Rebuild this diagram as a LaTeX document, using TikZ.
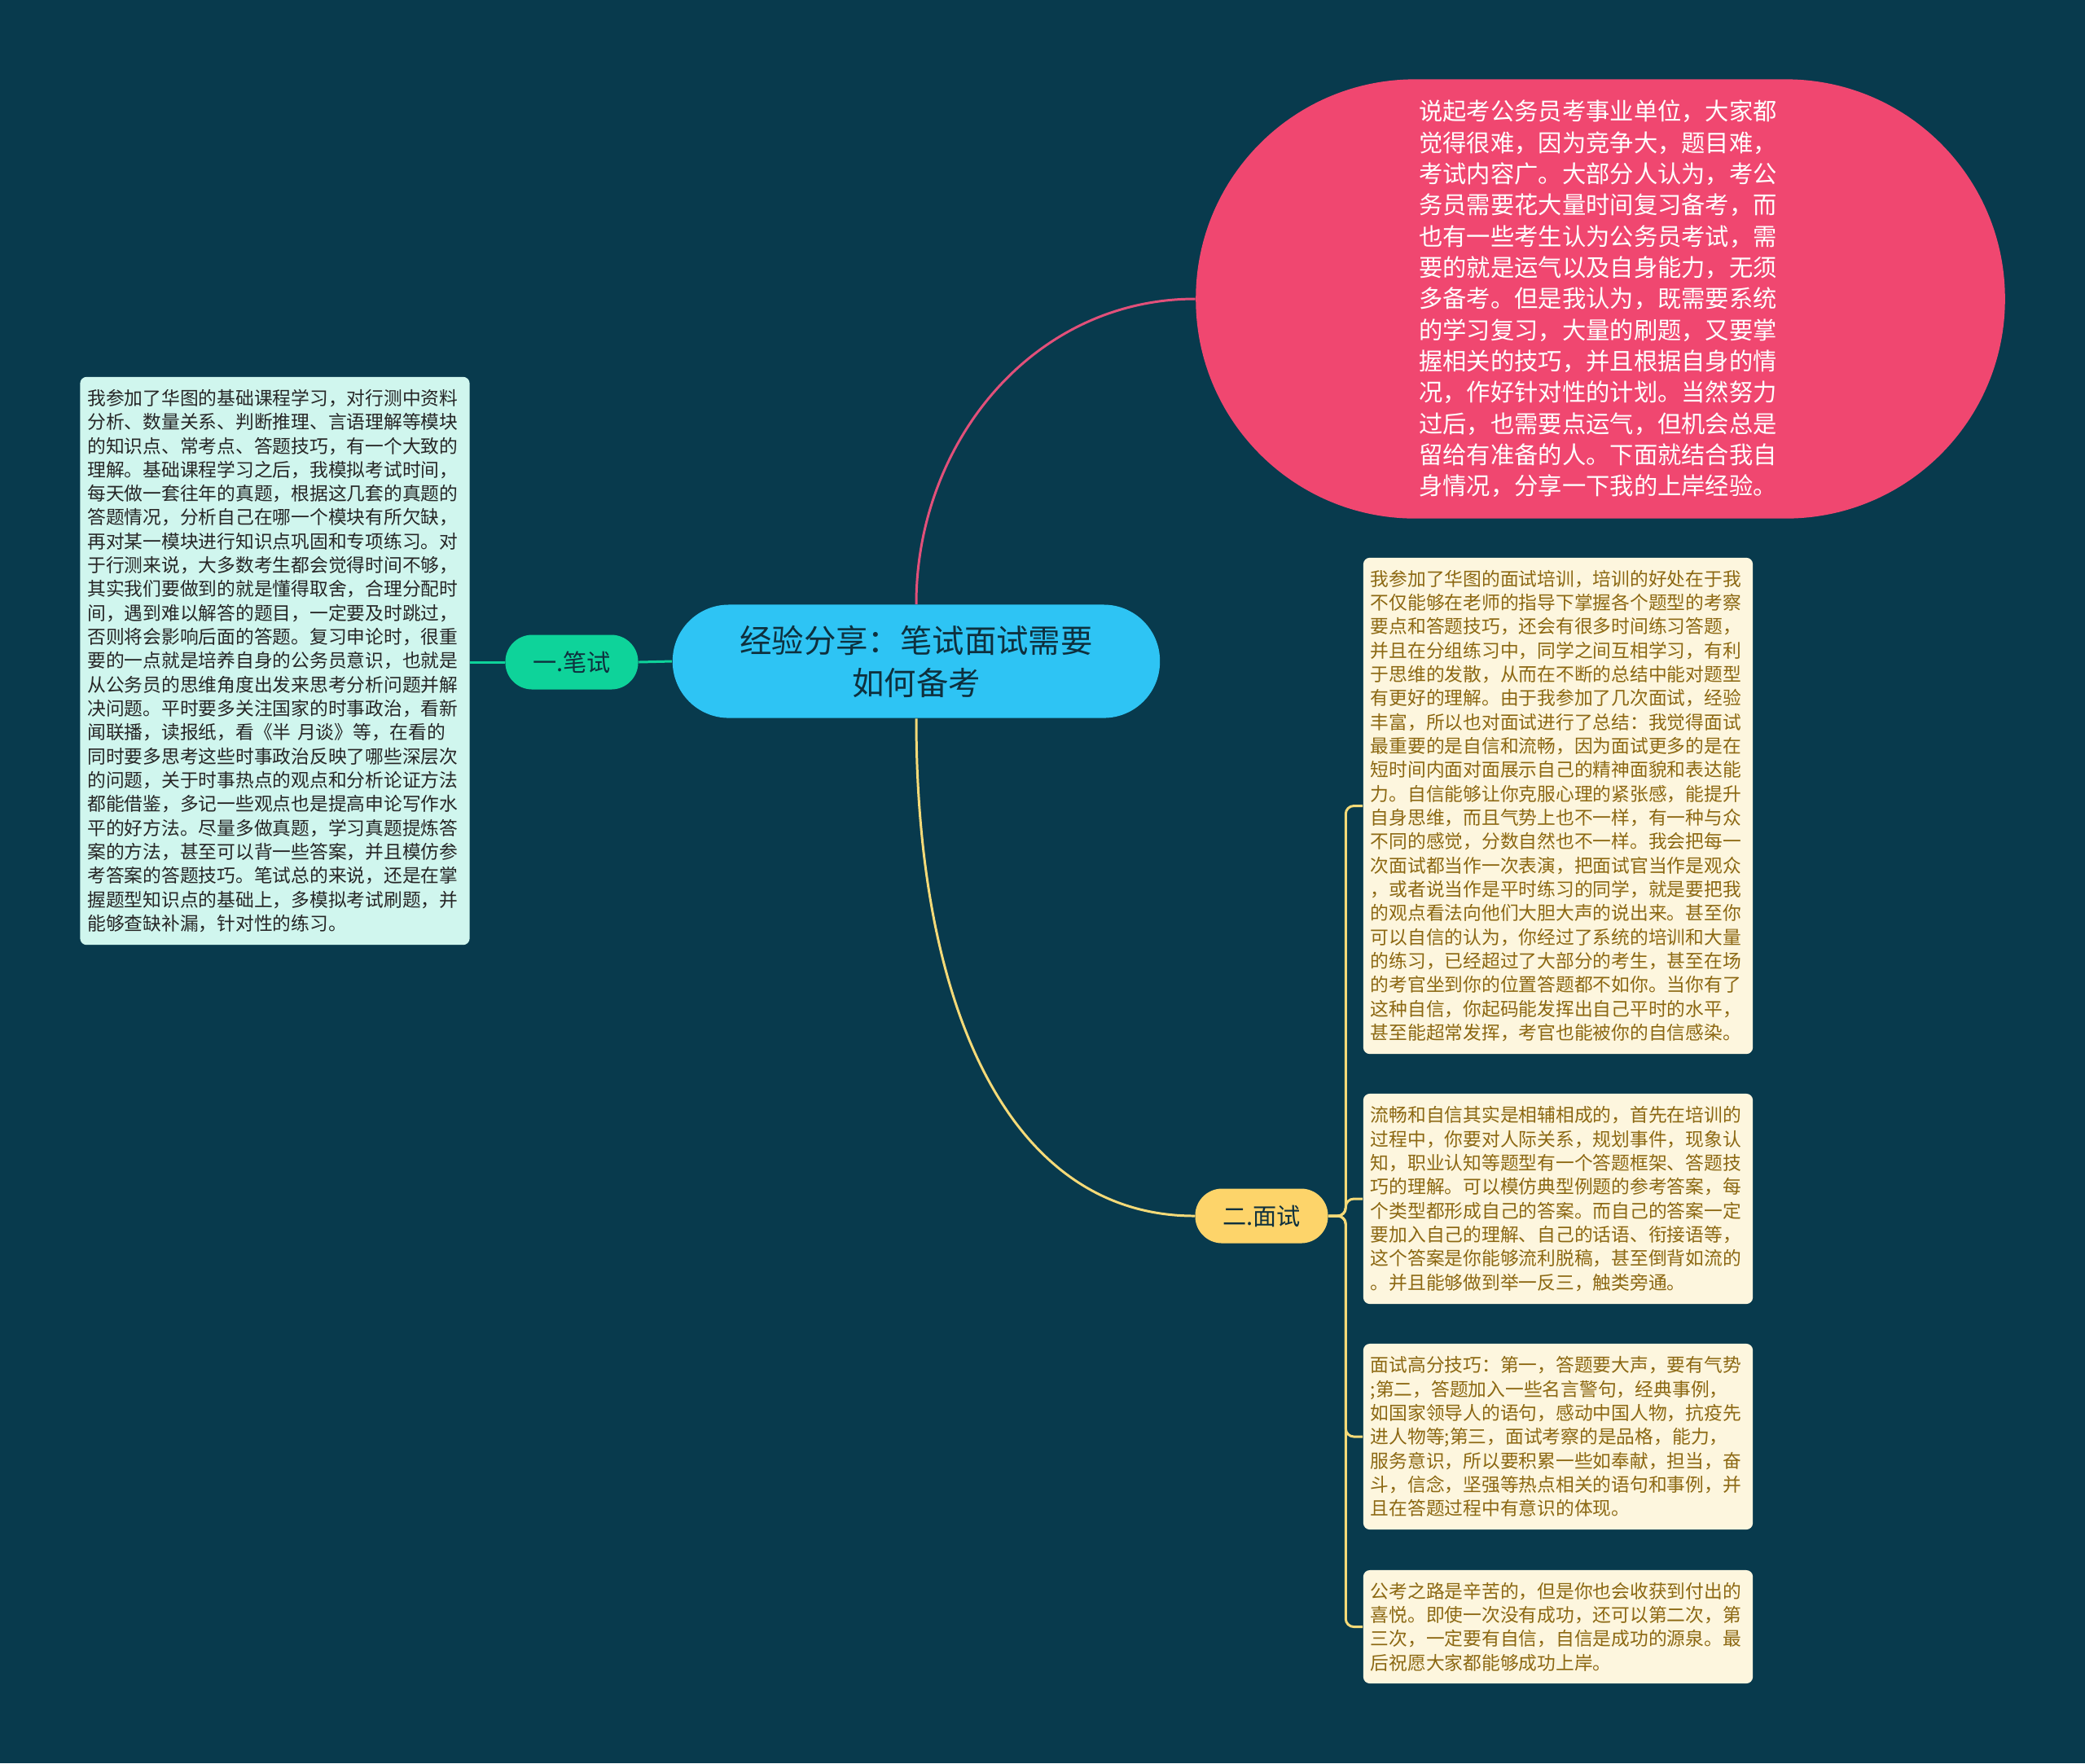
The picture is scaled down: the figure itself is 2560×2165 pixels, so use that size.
\documentclass[tikz,border=0pt]{standalone}
\usepackage{fontspec}
\setmainfont{Noto Sans CJK SC}
\usetikzlibrary{positioning,calc}

\definecolor{bgnavy}{RGB}{8,58,77}
\definecolor{rootblue}{RGB}{46,196,244}
\definecolor{rootink}{RGB}{14,48,62}
\definecolor{mintgreen}{RGB}{14,211,154}
\definecolor{sunyellow}{RGB}{253,212,106}
\definecolor{rosered}{RGB}{240,71,112}
\definecolor{mintpale}{RGB}{208,246,238}
\definecolor{creampale}{RGB}{253,246,222}
\definecolor{inkgold}{RGB}{140,104,18}
\definecolor{linkred}{RGB}{226,80,122}
\definecolor{linkyellow}{RGB}{245,218,120}

\begin{document}
\begin{tikzpicture}[x=0.01cm, y=-0.01cm,
    wire/.style={line width=0.85pt},
    rootnode/.style={fill=rootblue, text=rootink, rounded corners=0.69cm,
      minimum width=5.98cm, minimum height=1.39cm, inner sep=0pt, align=center,
      font=\fontsize{11.2pt}{14.8pt}\selectfont},
    branchnode/.style={text=rootink, rounded corners=0.33cm, minimum width=1.63cm,
      minimum height=0.67cm, inner sep=0pt, font=\fontsize{8.3pt}{10pt}\selectfont},
    notebox/.style={rounded corners=0.08cm, text width=4.6cm, inner xsep=0.09cm,
      inner ysep=0pt, align=left, font=\fontsize{6.47pt}{8.34pt}\selectfont},
    tipbox/.style={notebox, fill=creampale, text=inkgold}]

  % background
  \fill[bgnavy] (0,0) rectangle (2560,2165);
  \useasboundingbox (0,0) rectangle (2560,2165);

  % centre and main branches
  \node[rootnode] (root) at (1125,812) {经验分享：笔试面试需要\\如何备考};
  \node[branchnode, fill=mintgreen] (written) at (702,813) {一.笔试};
  \node[branchnode, fill=sunyellow] (interview) at (1549,1493) {二.面试};

  % intro bubble
  \node[fill=rosered, text=white, rounded corners=2.69cm, minimum width=9.93cm,
    minimum height=5.39cm, text width=4.45cm, align=left, inner sep=0pt,
    font=\fontsize{8.33pt}{10.9pt}\selectfont] (intro) at (1965,367)
    {说起考公务员考事业单位，大家都\\觉得很难，因为竞争大，题目难，\\考试内容广。大部分人认为，考公\\务员需要花大量时间复习备考，而\\也有一些考生认为公务员考试，需\\要的就是运气以及自身能力，无须\\多备考。但是我认为，既需要系统\\的学习复习，大量的刷题，又要掌\\握相关的技巧，并且根据自身的情\\况，作好针对性的计划。当然努力\\过后，也需要点运气，但机会总是\\留给有准备的人。下面就结合我自\\身情况，分享一下我的上岸经验。};

  % written exam note
  \node[notebox, fill=mintpale, text=black!85, minimum height=6.97cm] (notewritten) at (337.5,811.5)
    {我参加了华图的基础课程学习，对行测中资料\\分析、数量关系、判断推理、言语理解等模块\\的知识点、常考点、答题技巧，有一个大致的\\理解。基础课程学习之后，我模拟考试时间，\\每天做一套往年的真题，根据这几套的真题的\\答题情况，分析自己在哪一个模块有所欠缺，\\再对某一模块进行知识点巩固和专项练习。对\\于行测来说，大多数考生都会觉得时间不够，\\其实我们要做到的就是懂得取舍，合理分配时\\间，遇到难以解答的题目，一定要及时跳过，\\否则将会影响后面的答题。复习申论时，很重\\要的一点就是培养自身的公务员意识，也就是\\从公务员的思维角度出发来思考分析问题并解\\决问题。平时要多关注国家的时事政治，看新\\闻联播，读报纸，看《半 月谈》等，在看的\\同时要多思考这些时事政治反映了哪些深层次\\的问题，关于时事热点的观点和分析论证方法\\都能借鉴，多记一些观点也是提高申论写作水\\平的好方法。尽量多做真题，学习真题提炼答\\案的方法，甚至可以背一些答案，并且模仿参\\考答案的答题技巧。笔试总的来说，还是在掌\\握题型知识点的基础上，多模拟考试刷题，并\\能够查缺补漏，针对性的练习。};

  % interview notes
  \node[tipbox, minimum height=6.09cm] (tip1) at (1913,989.5)
    {我参加了华图的面试培训，培训的好处在于我\\不仅能够在老师的指导下掌握各个题型的考察\\要点和答题技巧，还会有很多时间练习答题，\\并且在分组练习中，同学之间互相学习，有利\\于思维的发散，从而在不断的总结中能对题型\\有更好的理解。由于我参加了几次面试，经验\\丰富，所以也对面试进行了总结：我觉得面试\\最重要的是自信和流畅，因为面试更多的是在\\短时间内面对面展示自己的精神面貌和表达能\\力。自信能够让你克服心理的紧张感，能提升\\自身思维，而且气势上也不一样，有一种与众\\不同的感觉，分数自然也不一样。我会把每一\\次面试都当作一次表演，把面试官当作是观众\\，或者说当作是平时练习的同学，就是要把我\\的观点看法向他们大胆大声的说出来。甚至你\\可以自信的认为，你经过了系统的培训和大量\\的练习，已经超过了大部分的考生，甚至在场\\的考官坐到你的位置答题都不如你。当你有了\\这种自信，你起码能发挥出自己平时的水平，\\甚至能超常发挥，考官也能被你的自信感染。};
  \node[tipbox, minimum height=2.58cm] (tip2) at (1913,1472)
    {流畅和自信其实是相辅相成的，首先在培训的\\过程中，你要对人际关系，规划事件，现象认\\知，职业认知等题型有一个答题框架、答题技\\巧的理解。可以模仿典型例题的参考答案，每\\个类型都形成自己的答案。而自己的答案一定\\要加入自己的理解、自己的话语、衔接语等，\\这个答案是你能够流利脱稿，甚至倒背如流的\\。并且能够做到举一反三，触类旁通。};
  \node[tipbox, minimum height=2.28cm] (tip3) at (1913,1764)
    {面试高分技巧：第一，答题要大声，要有气势\\;第二，答题加入一些名言警句，经典事例，\\如国家领导人的语句，感动中国人物，抗疫先\\进人物等;第三，面试考察的是品格，能力，\\服务意识，所以要积累一些如奉献，担当，奋\\斗，信念，坚强等热点相关的语句和事例，并\\且在答题过程中有意识的体现。};
  \node[tipbox, minimum height=1.39cm] (tip4) at (1913,1997.5)
    {公考之路是辛苦的，但是你也会收获到付出的\\喜悦。即使一次没有成功，还可以第二次，第\\三次，一定要有自信，自信是成功的源泉。最\\后祝愿大家都能够成功上岸。};

  % connectors
  \draw[wire, mintgreen] (root.west) -- (written.east);
  \draw[wire, mintgreen] (written.west) -- (written.west -| notewritten.east);
  \draw[wire, linkred] (root.north) to[out=90, in=180] (intro.west);
  \draw[wire, linkyellow] (root.south) .. controls +(0,350) and +(-230,0) .. (interview.west);
  \coordinate (fork) at ($(interview.east)+(21,0)$);
  \foreach \t in {tip1,tip2,tip3,tip4}
    \draw[wire, linkyellow, rounded corners=0.1cm] (interview.east) -- (fork) |- (\t.west);
\end{tikzpicture}
\end{document}
